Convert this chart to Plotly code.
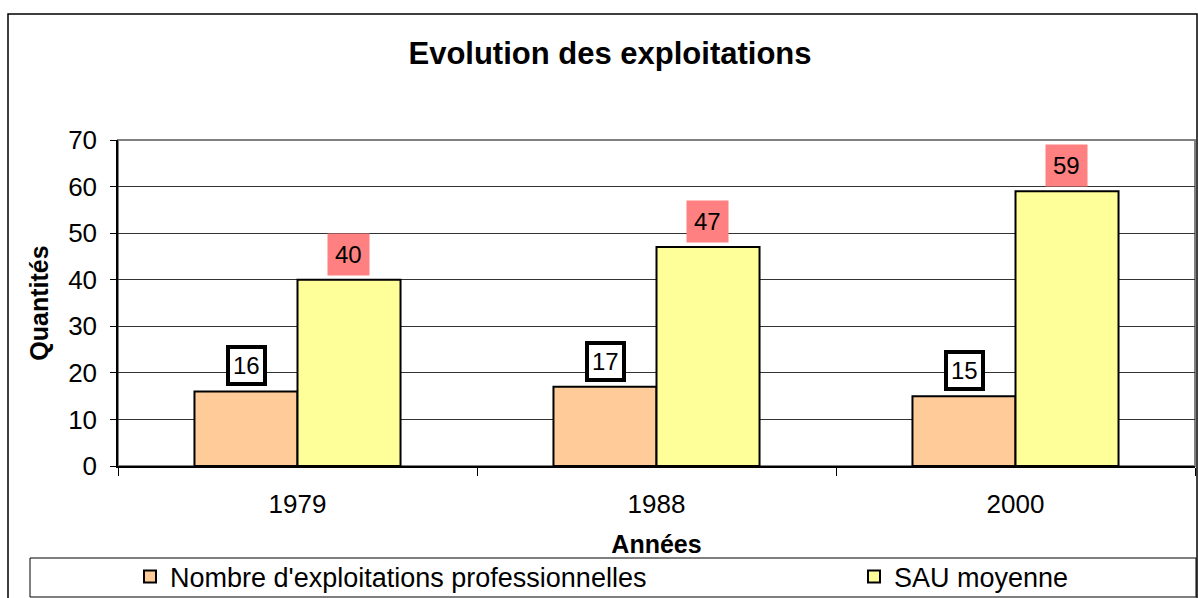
import plotly.graph_objects as go

years = ["1979", "1988", "2000"]
nb_exploitations = [16, 17, 15]
sau_moyenne = [40, 47, 59]
series_names = ["Nombre d'exploitations professionnelles", "SAU moyenne"]
y_ticks = [0, 10, 20, 30, 40, 50, 60, 70]

FONT = "Arial, 'Liberation Sans', sans-serif"
W, H = 1198, 598
L, R, T, B = 118, 3, 140, 132
pw, ph = W - L - R, H - T - B

def px_x(x):
    return (x - L) / pw

def px_y(y):
    return (H - B - y) / ph

fig = go.Figure()
fig.add_bar(x=years, y=nb_exploitations, name=series_names[0], legend="legend",
            marker=dict(color="#FFCC99", line=dict(color="black", width=2)))
fig.add_bar(x=years, y=sau_moyenne, name=series_names[1], legend="legend2",
            marker=dict(color="#FFFF99", line=dict(color="black", width=2)))

annotations = []
for i, v in enumerate(nb_exploitations):
    annotations.append(dict(x=i, y=v, xref="x", yref="y", text=str(v), showarrow=False,
                            xshift=-51, yshift=5, yanchor="bottom",
                            font=dict(family=FONT, size=24, color="black"),
                            bgcolor="white", bordercolor="black", borderwidth=4, borderpad=3))
for i, v in enumerate(sau_moyenne):
    annotations.append(dict(x=i, y=v, xref="x", yref="y", text=str(v), showarrow=False,
                            xshift=51, yshift=4, yanchor="bottom",
                            font=dict(family=FONT, size=24, color="black"),
                            bgcolor="#FF8080", borderpad=7))

shapes = [
    # outer chart border
    dict(type="rect", xref="paper", yref="paper", x0=px_x(8), x1=px_x(1197), y0=px_y(599), y1=px_y(14),
         line=dict(color="black", width=1.5), fillcolor="rgba(0,0,0,0)", layer="below"),
    # plot area border (gray)
    dict(type="rect", xref="paper", yref="paper", x0=0, x1=1, y0=0, y1=1,
         line=dict(color="#808080", width=2), fillcolor="rgba(0,0,0,0)", layer="below"),
    # legend box
    dict(type="rect", xref="paper", yref="paper", x0=px_x(30), x1=px_x(1196), y0=px_y(597), y1=px_y(558),
         line=dict(color="black", width=1), fillcolor="white", layer="below"),
]

legend_common = dict(orientation="h", yanchor="middle", xanchor="left",
                     font=dict(family=FONT, size=27, color="black"), bgcolor="rgba(0,0,0,0)")

fig.update_layout(
    width=W, height=H,
    margin=dict(l=L, r=R, t=T, b=B, autoexpand=False),
    paper_bgcolor="white", plot_bgcolor="white",
    barmode="group", bargap=0.426, bargroupgap=0,
    title=dict(text="<b>Evolution des exploitations</b>", x=610 / W, xanchor="center",
               y=1 - 53 / H, yanchor="middle", xref="container", yref="container",
               font=dict(family=FONT, size=31, color="black")),
    font=dict(family=FONT, size=26, color="black"),
    showlegend=True,
    legend=dict(x=px_x(130), y=px_y(577), **legend_common),
    legend2=dict(x=px_x(854), y=px_y(577), **legend_common),
    annotations=annotations,
    shapes=shapes,
)
fig.update_xaxes(
    type="category", range=[-0.5, len(years) - 0.5], showline=True, linecolor="black", linewidth=1.5,
    ticks="outside", tickson="boundaries", ticklen=8, tickcolor="black",
    ticklabelstandoff=14, tickfont=dict(family=FONT, size=26),
    title=dict(text="<b>Années</b>", font=dict(family=FONT, size=25), standoff=18),
    showgrid=False, zeroline=False,
)
fig.update_yaxes(
    range=[0, 70], tickvals=y_ticks, showline=True, linecolor="black", linewidth=1.5,
    ticks="outside", ticklen=6, tickcolor="black", ticklabelstandoff=8,
    tickfont=dict(family=FONT, size=26),
    showgrid=True, gridcolor="#333333", gridwidth=1, zeroline=False,
    title=dict(text="<b>Quantités</b>", font=dict(family=FONT, size=25), standoff=12),
)

fig.write_html("out.html", config={"displayModeBar": False},
               post_script="document.body.style.margin='0';document.body.style.padding='0';document.body.style.overflow='hidden';")
